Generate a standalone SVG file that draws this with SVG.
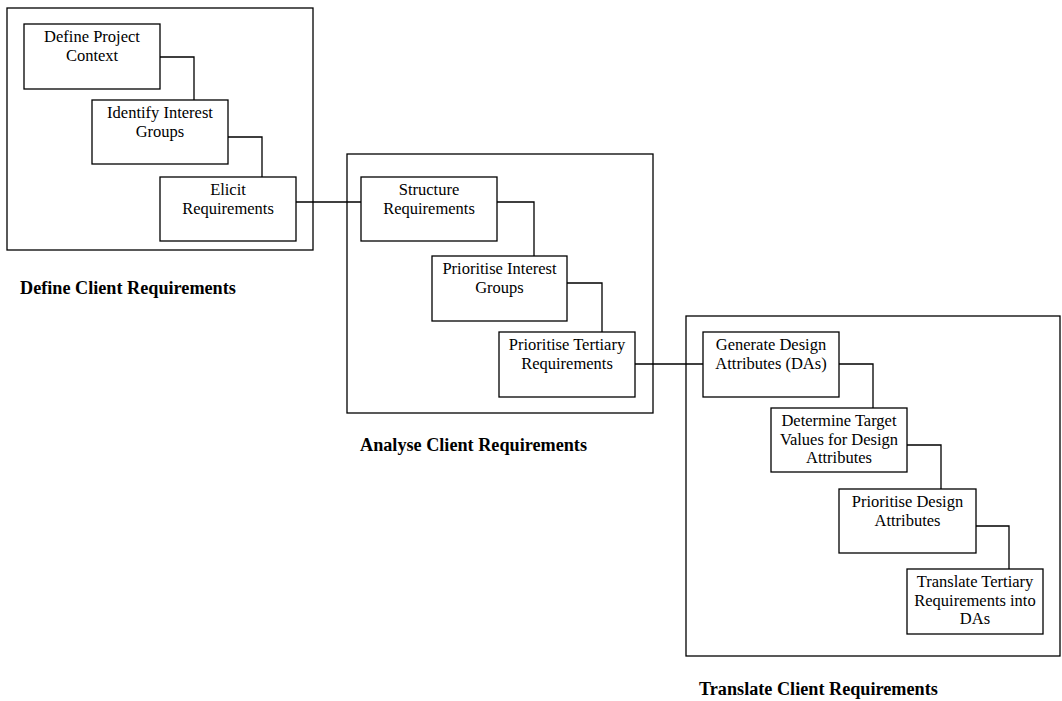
<svg xmlns="http://www.w3.org/2000/svg" width="1062" height="701" viewBox="0 0 1062 701">
<style>
.frame{fill:none;stroke:#000;stroke-width:1.3}
.box{fill:#fff;stroke:#000;stroke-width:1.3}
.conn{fill:none;stroke:#000;stroke-width:1.3}
.t{font-family:"Liberation Serif","Times New Roman",serif;font-size:16.5px;fill:#000;text-anchor:middle}
.lbl{font-family:"Liberation Serif","Times New Roman",serif;font-size:18.2px;font-weight:bold;fill:#000}
</style>
<rect width="1062" height="701" fill="#fff"/>
<g id="stage-define">
<rect class="frame" x="7" y="8" width="306" height="242"/>
<text class="lbl" x="20" y="294">Define Client Requirements</text>
</g>
<g id="stage-analyse">
<rect class="frame" x="347" y="154" width="306" height="259"/>
<text class="lbl" x="360" y="451">Analyse Client Requirements</text>
</g>
<g id="stage-translate">
<rect class="frame" x="686" y="316" width="374" height="340"/>
<text class="lbl" x="699" y="695">Translate Client Requirements</text>
</g>
<g id="connectors">
<polyline class="conn" points="160,57 194,57 194,100"/>
<polyline class="conn" points="228,137 262,137 262,177"/>
<polyline class="conn" points="296,202 361,202"/>
<polyline class="conn" points="497,202 534,202 534,256"/>
<polyline class="conn" points="567,283 602,283 602,332"/>
<polyline class="conn" points="635,364 703,364"/>
<polyline class="conn" points="839,364 873,364 873,408"/>
<polyline class="conn" points="907,445 941,445 941,489"/>
<polyline class="conn" points="976,526 1009,526 1009,569"/>
</g>
<g id="define-project-context">
<rect class="box" x="24" y="24" width="136" height="65"/>
<text class="t" x="92" y="42">Define Project</text>
<text class="t" x="92" y="61">Context</text>
</g>
<g id="identify-interest-groups">
<rect class="box" x="92" y="100" width="136" height="64"/>
<text class="t" x="160" y="118">Identify Interest</text>
<text class="t" x="160" y="137">Groups</text>
</g>
<g id="elicit-requirements">
<rect class="box" x="160" y="177" width="136" height="64"/>
<text class="t" x="228" y="195">Elicit</text>
<text class="t" x="228" y="214">Requirements</text>
</g>
<g id="structure-requirements">
<rect class="box" x="361" y="177" width="136" height="64"/>
<text class="t" x="429" y="195">Structure</text>
<text class="t" x="429" y="214">Requirements</text>
</g>
<g id="prioritise-interest-groups">
<rect class="box" x="432" y="256" width="135" height="65"/>
<text class="t" x="499.5" y="274">Prioritise Interest</text>
<text class="t" x="499.5" y="293">Groups</text>
</g>
<g id="prioritise-tertiary-requirements">
<rect class="box" x="499" y="332" width="136" height="65"/>
<text class="t" x="567" y="350">Prioritise Tertiary</text>
<text class="t" x="567" y="369">Requirements</text>
</g>
<g id="generate-design-attributes">
<rect class="box" x="703" y="332" width="136" height="65"/>
<text class="t" x="771" y="350">Generate Design</text>
<text class="t" x="771" y="369">Attributes (DAs)</text>
</g>
<g id="determine-target-values">
<rect class="box" x="771" y="408" width="136" height="64"/>
<text class="t" x="839" y="426">Determine Target</text>
<text class="t" x="839" y="445">Values for Design</text>
<text class="t" x="839" y="463">Attributes</text>
</g>
<g id="prioritise-design-attributes">
<rect class="box" x="839" y="489" width="137" height="64"/>
<text class="t" x="907.5" y="507">Prioritise Design</text>
<text class="t" x="907.5" y="526">Attributes</text>
</g>
<g id="translate-tertiary-requirements">
<rect class="box" x="907" y="569" width="136" height="65"/>
<text class="t" x="975" y="587">Translate Tertiary</text>
<text class="t" x="975" y="606">Requirements into</text>
<text class="t" x="975" y="624">DAs</text>
</g>
</svg>
